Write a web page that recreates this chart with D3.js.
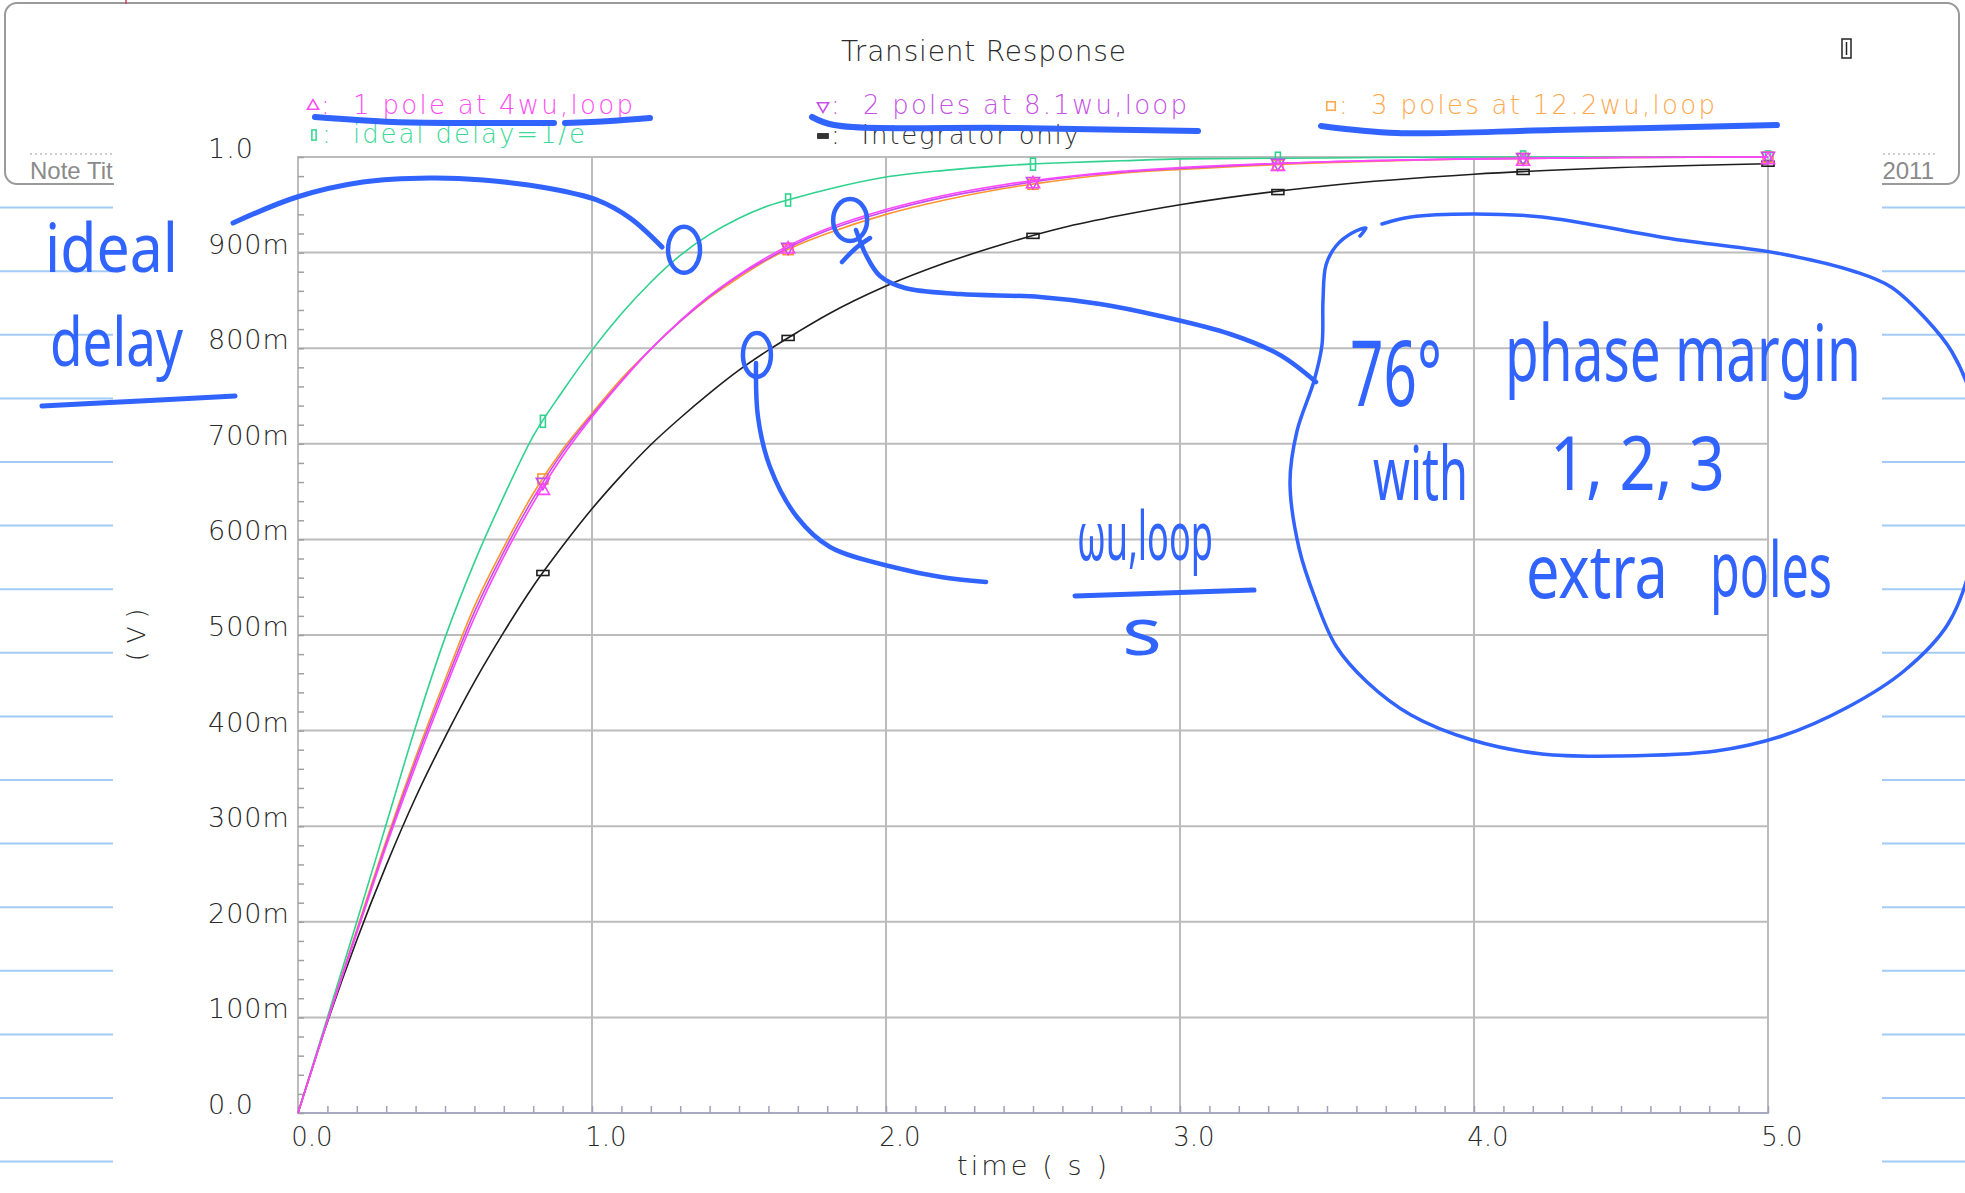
<!DOCTYPE html>
<html lang="en">
<meta charset="utf-8" />
<style>
    body { margin: 0; background: #fff; }
    svg { display: block; }
    .cad { font-family: "DejaVu Sans", sans-serif; font-weight: 200; }
    .hand { fill: none; stroke: #3163ff; stroke-linecap: round; stroke-linejoin: round; }
    .handtext { font-family: "Noto Sans", sans-serif; fill: #3163ff; }
</style>
<body>
<svg width="1965" height="1193"></svg>
<script src="https://d3js.org/d3.v7.min.js"></script>
<script>
    // time samples (s)
    var timeS = [0, 0.1, 0.2, 0.3, 0.4, 0.5, 0.6, 0.7, 0.8, 0.9, 1.0, 1.1, 1.2, 1.3, 1.4, 1.5, 1.6, 1.7, 1.8,
        2.0, 2.2, 2.4, 2.6, 2.8, 3.0, 3.5, 4.0, 4.5, 5.0]

    var idealDelay = [0, 0.100, 0.200, 0.302, 0.404, 0.497, 0.576, 0.645, 0.708, 0.755, 0.798, 0.836, 0.869, 0.897,
        0.919, 0.936, 0.949, 0.958, 0.966, 0.979, 0.986, 0.991, 0.994, 0.996, 0.998, 0.999, 1.0, 1.0, 1.0]
    var onePole = [0, 0.096, 0.188, 0.279, 0.363, 0.443, 0.518, 0.582, 0.638, 0.687, 0.728, 0.765, 0.799, 0.829,
        0.855, 0.877, 0.896, 0.912, 0.925, 0.945, 0.960, 0.971, 0.979, 0.985, 0.989, 0.995, 0.998, 0.9995, 1.0]
    var twoPoles = [0, 0.097, 0.190, 0.282, 0.368, 0.448, 0.524, 0.587, 0.643, 0.691, 0.730, 0.766, 0.799, 0.828,
        0.854, 0.876, 0.894, 0.910, 0.923, 0.943, 0.958, 0.969, 0.978, 0.984, 0.988, 0.995, 0.998, 0.9995, 1.0]
    var threePoles = [0, 0.097, 0.192, 0.285, 0.372, 0.453, 0.530, 0.592, 0.648, 0.694, 0.732, 0.768, 0.799, 0.828,
        0.853, 0.874, 0.893, 0.908, 0.920, 0.940, 0.955, 0.967, 0.976, 0.983, 0.987, 0.994, 0.998, 0.9995, 1.0]
    var integrator = [0, 0.095, 0.181, 0.259, 0.330, 0.393, 0.451, 0.503, 0.551, 0.593, 0.632, 0.667, 0.699, 0.727,
        0.753, 0.777, 0.798, 0.817, 0.835, 0.865, 0.889, 0.909, 0.926, 0.939, 0.950, 0.970, 0.982, 0.989, 0.993]

    var markerT = [0.833, 1.667, 2.5, 3.333, 4.167, 5.0]

    var xTicks = [0, 1, 2, 3, 4, 5]
    var xTickLabels = ["0.0", "1.0", "2.0", "3.0", "4.0", "5.0"]
    var yTicks = [0, 0.1, 0.2, 0.3, 0.4, 0.5, 0.6, 0.7, 0.8, 0.9, 1.0]
    var yTickLabels = ["0.0", "100m", "200m", "300m", "400m", "500m", "600m", "700m", "800m", "900m", "1.0"]

    var legendLabels = [":  1 pole at 4wu,loop", ":  ideal delay=1/e", ":  2 poles at 8.1wu,loop",
        ":  Integrator only", ":  3 poles at 12.2wu,loop"]

    var svg = d3.select("svg")
    var W = 1965, H = 1193

    //////////////////////////////////////////////////////////////////// notebook page
    var ruleY = d3.range(0, 16).map(i => 207.6 + i * 63.6)
    svg.selectAll("line.rule-l").data(ruleY).enter().append("line")
        .attr("x1", 0).attr("x2", 113).attr("y1", d => d).attr("y2", d => d)
        .attr("stroke", "#a3cbf6").attr("stroke-width", 2)
    svg.selectAll("line.rule-r").data(ruleY).enter().append("line")
        .attr("x1", 1882).attr("x2", W).attr("y1", d => d).attr("y2", d => d)
        .attr("stroke", "#a3cbf6").attr("stroke-width", 2)

    svg.append("rect")
        .attr("x", 5).attr("y", 3).attr("width", 1954).attr("height", 181).attr("rx", 12)
        .attr("fill", "none").attr("stroke", "#9a9a9a").attr("stroke-width", 2)

    svg.append("line").attr("x1", 30).attr("x2", 114).attr("y1", 154).attr("y2", 154)
        .attr("stroke", "#999").attr("stroke-dasharray", "2,3")
    svg.append("text").text("Note Title").attr("x", 30).attr("y", 179)
        .style("font-family", "Liberation Sans, Arial").style("font-size", "24px").attr("fill", "#8a8a8a")
    svg.append("line").attr("x1", 1878).attr("x2", 1936).attr("y1", 154).attr("y2", 154)
        .attr("stroke", "#999").attr("stroke-dasharray", "2,3")
    svg.append("text").text("2011").attr("x", 1934).attr("y", 179).attr("text-anchor", "end")
        .style("font-family", "Liberation Sans, Arial").style("font-size", "24px").attr("fill", "#8a8a8a")

    svg.append("line").attr("x1", 126).attr("x2", 126).attr("y1", 0).attr("y2", 4)
        .attr("stroke", "#d04060").attr("stroke-width", 1.5)
    svg.append("line").attr("x1", 126).attr("x2", 126).attr("y1", 1187).attr("y2", H)
        .attr("stroke", "#d04060").attr("stroke-width", 1.5)

    // pasted plot image background
    svg.append("rect").attr("x", 114).attr("y", 7).attr("width", 1768).attr("height", H - 7).attr("fill", "#fff")

    //////////////////////////////////////////////////////////////////// plot
    var x = d3.scaleLinear().domain([0, 5]).range([298, 1768])
    var y = d3.scaleLinear().domain([0, 1]).range([1113, 157])

    var grid = svg.append("g")
    grid.selectAll("line.vx").data(xTicks.slice(1, -1)).enter().append("line")
        .attr("x1", d => x(d)).attr("x2", d => x(d)).attr("y1", y(0)).attr("y2", y(1))
        .attr("stroke", "#bcbcbc").attr("stroke-width", 2)
    grid.selectAll("line.hy").data(yTicks.slice(1, -1)).enter().append("line")
        .attr("x1", x(0)).attr("x2", x(5)).attr("y1", d => y(d)).attr("y2", d => y(d))
        .attr("stroke", "#bcbcbc").attr("stroke-width", 2)
    grid.append("rect")
        .attr("x", x(0)).attr("y", y(1)).attr("width", x(5) - x(0)).attr("height", y(0) - y(1))
        .attr("fill", "none").attr("stroke", "#bcbcbc").attr("stroke-width", 2)
    grid.append("line").attr("x1", x(0)).attr("x2", x(5)).attr("y1", y(0)).attr("y2", y(0))
        .attr("stroke", "#a9a9c2").attr("stroke-width", 2)

    // minor ticks
    svg.append("g").attr("transform", "translate(0," + y(0) + ")")
        .call(d3.axisBottom(x).tickValues(d3.range(0, 51).map(i => i / 10)).tickSize(-7).tickFormat(""))
        .call(g => g.select(".domain").remove())
        .selectAll("line").attr("stroke", "#a0a0b8").attr("stroke-width", 1.5)
    svg.append("g").attr("transform", "translate(" + x(0) + ",0)")
        .call(d3.axisLeft(y).tickValues(d3.range(0, 51).map(i => i / 50)).tickSize(-6).tickFormat(""))
        .call(g => g.select(".domain").remove())
        .selectAll("line").attr("stroke", "#a0a0a0").attr("stroke-width", 1.5)

    // tick labels
    svg.selectAll("text.ylab").data(yTicks).enter().append("text")
        .attr("class", "cad")
        .attr("x", 208).attr("y", d => y(d) + 1)
        .style("font-size", "27px").style("letter-spacing", "1px").attr("fill", "#2a2a2a")
        .text((d, i) => yTickLabels[i])
    svg.selectAll("text.xlab").data(xTicks).enter().append("text")
        .attr("class", "cad")
        .attr("x", d => x(d) + 14).attr("y", 1146).attr("text-anchor", "middle")
        .style("font-size", "26px").attr("fill", "#2a2a2a")
        .text((d, i) => xTickLabels[i])

    svg.append("text").attr("class", "cad").text("time ( s )")
        .attr("x", 957).attr("y", 1175)
        .attr("textLength", 150).attr("lengthAdjust", "spacing")
        .style("font-size", "27px").attr("fill", "#2a2a2a")
    svg.append("text").attr("class", "cad").text("( V )")
        .attr("transform", "translate(145,635) rotate(-90)").attr("text-anchor", "middle")
        .style("font-size", "25px").attr("fill", "#2a2a2a")

    svg.append("text").attr("class", "cad").text("Transient Response")
        .attr("x", 841).attr("y", 61)
        .attr("textLength", 285).attr("lengthAdjust", "spacing")
        .style("font-size", "28px").attr("fill", "#2a2a2a")

    // little window icon
    svg.append("rect").attr("x", 1842).attr("y", 39).attr("width", 9).attr("height", 19)
        .attr("fill", "#fff").attr("stroke", "#222").attr("stroke-width", 1.5)
    svg.append("line").attr("x1", 1846.5).attr("x2", 1846.5).attr("y1", 42).attr("y2", 55)
        .attr("stroke", "#222").attr("stroke-width", 1.5)

    // curves
    var series = [
        { values: idealDelay, color: "#2fd28e", text: "#3ed898", marker: "vrect", legend: 1, lx: 314, ly: 143, lw: 263 },
        { values: integrator, color: "#1e1e1e", text: "#333333", marker: "hrect", legend: 3, lx: 823, ly: 144, lw: 248 },
        { values: threePoles, color: "#ff9530", text: "#ffa94d", marker: "square", legend: 4, lx: 1331, ly: 114, lw: 376 },
        { values: twoPoles, color: "#c94bf0", text: "#c64fe6", marker: "down", legend: 2, lx: 823, ly: 114, lw: 356 },
        { values: onePole, color: "#ff45ff", text: "#ff4cf4", marker: "up", legend: 0, lx: 313, ly: 114, lw: 312 }
    ]

    var line = d3.line()
        .x(d => x(d[0]))
        .y(d => y(d[1]))
        .curve(d3.curveMonotoneX)

    function valueAt(vals, t) {
        var i = d3.bisectLeft(timeS, t)
        if (i <= 0) return vals[0]
        if (i >= timeS.length) return vals[vals.length - 1]
        var t0 = timeS[i - 1], t1 = timeS[i]
        return vals[i - 1] + (vals[i] - vals[i - 1]) * (t - t0) / (t1 - t0)
    }

    function drawMarker(g, kind, cx, cy, color, s, filled) {
        if (kind == "up" || kind == "down") {
            g.append("path")
                .attr("d", d3.symbol(d3.symbolTriangle, 75 * s * s)())
                .attr("transform", "translate(" + cx + "," + cy + ")" + (kind == "down" ? " rotate(180)" : ""))
                .attr("fill", "none").attr("stroke", color).attr("stroke-width", 1.6)
        } else {
            var w = kind == "vrect" ? 5 : kind == "hrect" ? 12 : 10
            var h = kind == "vrect" ? 12 : kind == "hrect" ? 5 : 10
            w *= s; h *= s
            g.append("rect")
                .attr("x", cx - w / 2).attr("y", cy - h / 2).attr("width", w).attr("height", h)
                .attr("fill", filled ? color : "none").attr("stroke", color).attr("stroke-width", 1.6)
        }
    }

    var plot = svg.append("g")
    series.forEach(function(s) {
        plot.append("path")
            .datum(timeS.map((t, i) => [t, s.values[i]]))
            .attr("d", line)
            .attr("fill", "none")
            .attr("stroke", s.color)
            .attr("stroke-width", 1.6)
        markerT.forEach(function(t) {
            var v = valueAt(s.values, t)
            var off = s.marker == "up" ? 3 : s.marker == "down" ? -1 : 0
            drawMarker(plot, s.marker, x(t), y(v) + off, s.color, 1, false)
        })
        // legend
        drawMarker(svg, s.marker, s.lx, s.ly - 8, s.text, 0.85, s.marker == "hrect")
        svg.append("text").attr("class", "cad")
            .attr("x", s.lx + 8).attr("y", s.ly)
            .attr("textLength", s.lw).attr("lengthAdjust", "spacing")
            .style("font-size", "26px").attr("fill", s.text)
            .style("white-space", "pre")
            .text(legendLabels[s.legend])
    })

    //////////////////////////////////////////////////////////////////// handwriting
    var hand = svg.append("g")
    var pen = d3.line().curve(d3.curveCatmullRom.alpha(0.5))

    var strokes = [
        // underlines of the legend
        { w: 6, p: [[315, 117], [393, 122], [470, 123], [554, 123]] },
        { w: 6, p: [[565, 123], [610, 121], [650, 118]] },
        { w: 6, p: [[812, 117], [834, 125], [1012, 128], [1198, 131]] },
        { w: 6, p: [[1321, 126], [1397, 133], [1554, 130], [1777, 125]] },
        // "ideal delay" underline and arc
        { w: 5, p: [[42, 406], [140, 401], [235, 396]] },
        { w: 5, p: [[233, 223], [297, 197], [363, 182], [430, 178], [483, 180], [547, 188], [597, 200], [630, 218], [662, 247]] },
        // tail to the bubble
        { w: 4.5, p: [[842, 262], [856, 248], [870, 238]] },
        { w: 4.5, p: [[856, 230], [866, 255], [880, 276], [905, 288], [960, 294], [1040, 297], [1100, 304], [1160, 316], [1230, 334], [1280, 355], [1316, 382]] },
        // tail to the w/s note
        { w: 4.5, p: [[756, 363], [758, 417], [770, 467], [797, 517], [830, 547], [897, 568], [941, 577], [986, 582]] },
        // fraction bar
        { w: 5, p: [[1075, 596], [1165, 593], [1254, 590]] },
        // bubble
        { w: 3.5, p: [[1382, 224], [1411, 217], [1472, 214], [1542, 217], [1673, 239], [1782, 254], [1856, 272], [1891, 287],
            [1926, 319], [1952, 352], [1972, 400], [1980, 480], [1972, 560], [1948, 624], [1904, 671], [1848, 707],
            [1782, 736], [1716, 751], [1620, 756], [1542, 754], [1472, 740], [1411, 715], [1367, 682], [1336, 646],
            [1315, 598], [1299, 548], [1290, 482], [1297, 431], [1314, 381], [1322, 345], [1323, 300], [1326, 265],
            [1336, 246], [1352, 233], [1366, 228], [1360, 236]] }
    ]
    strokes.forEach(function(s) {
        hand.append("path").attr("class", "hand").attr("d", pen(s.p)).attr("stroke-width", s.w)
    })

    // circled points, given in chart units
    var circled = [[1.313, 0.903, 16, 23], [1.878, 0.934, 17, 21], [1.561, 0.793, 14, 22]]
    hand.selectAll("ellipse").data(circled).enter().append("ellipse")
        .attr("class", "hand")
        .attr("cx", d => x(d[0])).attr("cy", d => y(d[1]))
        .attr("rx", d => d[2]).attr("ry", d => d[3])
        .attr("stroke-width", 4.5)

    var notes = [
        { t: "ideal", x: 45, y: 272, s: 68, w: 133 },
        { t: "delay", x: 50, y: 366, s: 68, w: 133 },
        { t: "76°", x: 1350, y: 406, s: 92, w: 92 },
        { t: "phase margin", x: 1505, y: 381, s: 78, w: 356 },
        { t: "with", x: 1373, y: 500, s: 74, w: 95 },
        { t: "1, 2, 3", x: 1550, y: 490, s: 74, w: 175 },
        { t: "extra", x: 1526, y: 598, s: 74, w: 142 },
        { t: "poles", x: 1710, y: 597, s: 76, w: 122 },
        { t: "ωu,loop", x: 1077, y: 560, s: 68, w: 136 },
        { t: "s", x: 1122, y: 655, s: 66, w: 40 }
    ]
    // squeeze each note horizontally to the width it has on the page
    notes.forEach(function(n) {
        var t = hand.append("text")
            .attr("class", "handtext")
            .style("font-size", n.s + "px")
            .text(n.t)
        var w0 = t.node().getComputedTextLength() || n.w
        t.attr("transform", "translate(" + n.x + "," + n.y + ") scale(" + (n.w / w0) + ",1)")
    })
</script>
</body>
</html>
